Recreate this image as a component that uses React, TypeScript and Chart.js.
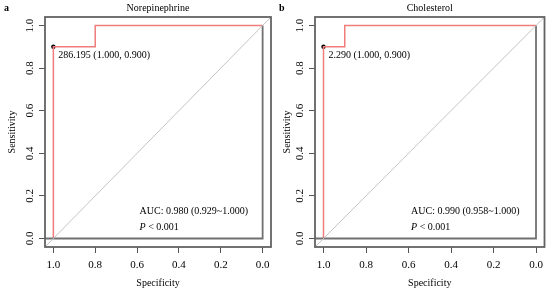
import React, { useEffect, useRef } from "react";
import { Chart, registerables } from "chart.js";

Chart.register(...registerables);

// ---- data ----
const TICK_VALUES = [0, 0.2, 0.4, 0.6, 0.8, 1.0];
const NE_SPEC = [1.0, 1.0, 0.8, 0.8, 0.0];
const NE_SENS = [0.0, 0.9, 0.9, 1.0, 1.0];
const CH_SPEC = [1.0, 1.0, 0.9, 0.9, 0.0];
const CH_SENS = [0.0, 0.9, 0.9, 1.0, 1.0];
const REF_SPEC = [1.04, 0.0, 0.0];
const REF_SENS = [0.0, 0.0, 1.0];
const DIAG_SPEC = [1.04, -0.04];
const DIAG_SENS = [-0.04, 1.04];
const NE_BEST = { spec: 1.0, sens: 0.9, label: "286.195 (1.000, 0.900)" };
const CH_BEST = { spec: 1.0, sens: 0.9, label: "2.290 (1.000, 0.900)" };
const NE_AUC = "AUC: 0.980 (0.929~1.000)";
const CH_AUC = "AUC: 0.990 (0.958~1.000)";
const P_TEXT = " < 0.001";
const TEXT_SPEC = 0.588;
const AUC_SENS = 0.125;
const P_SENS = 0.05;

const FONT = "'Liberation Serif', 'Times New Roman', serif";

type Panel = {
  letter: string;
  title: string;
  spec: number[];
  sens: number[];
  best: { spec: number; sens: number; label: string };
  auc: string;
  yWidth: number;
  rightPad: number;
};

const PANELS: Panel[] = [
  { letter: "a", title: "Norepinephrine", spec: NE_SPEC, sens: NE_SENS, best: NE_BEST, auc: NE_AUC, yWidth: 45, rightPad: 2.5 },
  { letter: "b", title: "Cholesterol", spec: CH_SPEC, sens: CH_SENS, best: CH_BEST, auc: CH_AUC, yWidth: 40, rightPad: 5.5 },
];

const toXY = (xs: number[], ys: number[]) => xs.map((x, i) => ({ x, y: ys[i] }));

function RocPanel({ panel }: { panel: Panel }) {
  const ref = useRef<HTMLCanvasElement | null>(null);
  useEffect(() => {
    if (!ref.current) return;
    const overlay = {
      id: "overlay",
      afterDatasetsDraw(chart: any) {
        const { ctx, chartArea, scales } = chart;
        const xs = scales.x;
        const ys = scales.y;
        ctx.save();
        // box
        ctx.strokeStyle = "#636363";
        ctx.lineWidth = 1.8;
        ctx.strokeRect(chartArea.left, chartArea.top, chartArea.right - chartArea.left, chartArea.bottom - chartArea.top);
        // best point label
        const px = xs.getPixelForValue(panel.best.spec);
        const py = ys.getPixelForValue(panel.best.sens);
        ctx.fillStyle = "#000";
        ctx.font = `10px ${FONT}`;
        ctx.textBaseline = "middle";
        ctx.textAlign = "left";
        ctx.fillText(panel.best.label, px + 5, py + 9);
        // AUC
        const tx = xs.getPixelForValue(TEXT_SPEC);
        ctx.fillText(panel.auc, tx, ys.getPixelForValue(AUC_SENS));
        ctx.font = `italic 10px ${FONT}`;
        const pY = ys.getPixelForValue(P_SENS);
        ctx.fillText("P", tx, pY);
        const pw = ctx.measureText("P").width;
        ctx.font = `10px ${FONT}`;
        ctx.fillText(P_TEXT, tx + pw, pY);
        // panel letter
        ctx.font = `bold 10px ${FONT}`;
        ctx.fillText(panel.letter, 4, 8);
        ctx.restore();
      },
    };
    const chart = new Chart(ref.current, {
      type: "scatter",
      data: {
        datasets: [
          {
            data: toXY(DIAG_SPEC, DIAG_SENS),
            showLine: true,
            borderColor: "#c4c4c4",
            borderWidth: 1,
            pointRadius: 0,
          },
          {
            data: toXY(REF_SPEC, REF_SENS),
            showLine: true,
            borderColor: "#707070",
            borderWidth: 1.8,
            pointRadius: 0,
          },
          {
            data: toXY(panel.spec, panel.sens),
            showLine: true,
            borderColor: "#f07c7c",
            borderWidth: 1.5,
            pointRadius: 0,
          },
          {
            data: [{ x: panel.best.spec, y: panel.best.sens }],
            showLine: false,
            pointRadius: 2.2,
            pointBackgroundColor: "#000",
            pointBorderColor: "#000",
            borderWidth: 0,
          },
        ],
      },
      options: {
        responsive: false,
        animation: false,
        events: [],
        layout: { padding: { top: 0, right: panel.rightPad, left: 0, bottom: 0 } },
        plugins: {
          legend: { display: false },
          tooltip: { enabled: false },
          title: {
            display: true,
            text: panel.title,
            fullSize: false,
            color: "#000",
            font: { family: FONT, size: 10, weight: "normal", lineHeight: 1.2 },
            padding: { top: 2, bottom: 3 },
          },
        },
        scales: {
          x: {
            type: "linear",
            reverse: true,
            min: -0.04,
            max: 1.04,
            afterBuildTicks: (s: any) => {
              s.ticks = TICK_VALUES.map((v) => ({ value: v }));
            },
            afterFit: (s: any) => {
              s.height = 44;
            },
            grid: { display: true, drawOnChartArea: false, drawTicks: true, tickLength: 6, color: "#555", lineWidth: 1 },
            border: { display: false },
            ticks: {
              color: "#000",
              font: { family: FONT, size: 11 },
              padding: 6,
              maxRotation: 0,
              callback: (v: any) => Number(v).toFixed(1),
            },
            title: {
              display: true,
              text: "Specificity",
              color: "#000",
              font: { family: FONT, size: 10 },
              padding: 2,
            },
          },
          y: {
            type: "linear",
            min: -0.04,
            max: 1.04,
            afterBuildTicks: (s: any) => {
              s.ticks = TICK_VALUES.map((v) => ({ value: v }));
            },
            afterFit: (s: any) => {
              s.width = panel.yWidth;
            },
            grid: { display: true, drawOnChartArea: false, drawTicks: true, tickLength: 6, color: "#555", lineWidth: 1 },
            border: { display: false },
            ticks: {
              color: "#000",
              font: { family: FONT, size: 11 },
              padding: 2,
              minRotation: 90,
              maxRotation: 90,
              crossAlign: "center",
              callback: (v: any) => Number(v).toFixed(1),
            },
            title: {
              display: true,
              text: "Sensitivity",
              color: "#000",
              font: { family: FONT, size: 10 },
              padding: 6,
            },
          },
        },
      },
      plugins: [overlay],
    } as any);
    return () => chart.destroy();
  }, [panel]);
  return <canvas ref={ref} width={275} height={291} style={{ display: "block", width: 275, height: 291 }} />;
}

export default function App() {
  return (
    <div style={{ position: "absolute", left: 0, top: 0, width: 550, height: 291, display: "flex", background: "#fff" }}>
      {PANELS.map((p) => (
        <RocPanel key={p.letter} panel={p} />
      ))}
    </div>
  );
}
